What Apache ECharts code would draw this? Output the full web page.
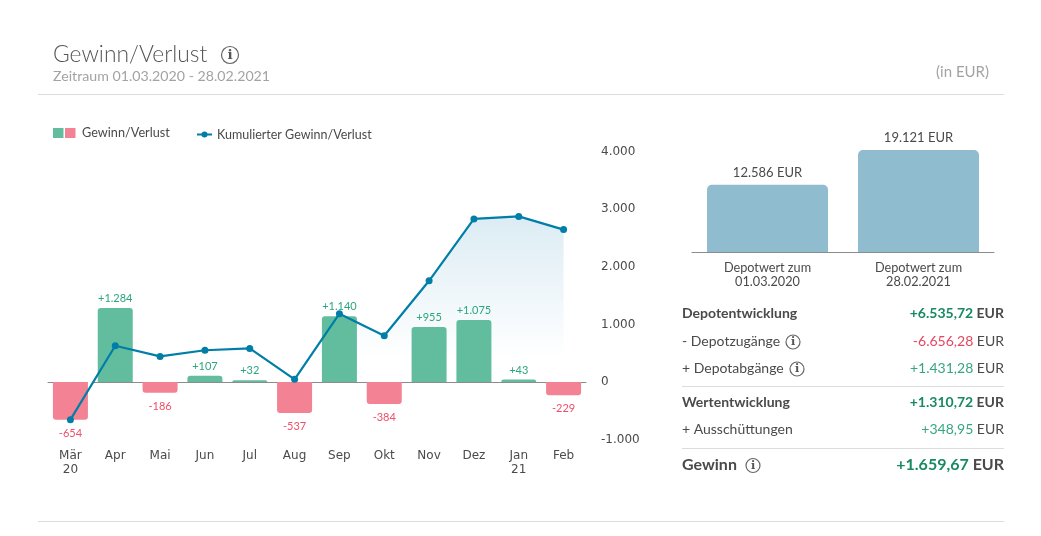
<!DOCTYPE html>
<html lang="de">
  <head>
    <meta charset="UTF-8" />
    <title>Gewinn/Verlust</title>
    <script src="https://cdn.jsdelivr.net/npm/echarts@6/dist/echarts.min.js"></script>
  </head>
  <body style="margin: 0; background: #fff">
    <div id="container" style="width: 1041px; height: 536px"></div>
    <script>
      const months = ["Mär\n20", "Apr", "Mai", "Jun", "Jul", "Aug", "Sep", "Okt", "Nov", "Dez", "Jan\n21", "Feb"];
      const gainLoss = [-654, 1284, -186, 107, 32, -537, 1140, -384, 955, 1075, 43, -229];
      const cumulated = [-654, 630, 444, 551, 583, 46, 1186, 802, 1757, 2832, 2875, 2646];
      const depotDates = ["Depotwert zum\n01.03.2020", "Depotwert zum\n28.02.2021"];
      const depotValues = [12586, 19121];
      const tableRows = [
        ["Depotentwicklung", "+6.535,72", true],
        ["- Depotzugänge", "-6.656,28", false],
        ["+ Depotabgänge", "+1.431,28", false],
        ["Wertentwicklung", "+1.310,72", true],
        ["+ Ausschüttungen", "+348,95", false]
      ];
      const totalRow = ["Gewinn", "+1.659,67"];

      const font = "Lato";
      const tickFont = "DejaVu Sans";
      const dark = "#4a4a4a";
      const green = "#62bd9f";
      const red = "#f38294";
      const lineColor = "#007ea7";

      function fmt(v) {
        return Math.abs(v).toString().replace(/\B(?=(\d{3})+$)/g, ".");
      }

      function text(x, y, str, size, fill, extra) {
        return {
          type: "text",
          x: x,
          y: y,
          style: Object.assign({ text: str, fontFamily: font, fontSize: size, fill: fill, verticalAlign: "middle" }, extra)
        };
      }
      function rule(x1, x2, y, color, width) {
        return { type: "line", shape: { x1: x1, y1: y, x2: x2, y2: y }, style: { stroke: color || "#dcdcdc", lineWidth: width || 1 } };
      }
      // kleines (i) Symbol
      function info(x, y, r) {
        return [
          { type: "circle", shape: { cx: x, cy: y, r: r }, style: { fill: "none", stroke: "#666", lineWidth: 1.2 } },
          text(x, y + 0.5, "i", r * 1.6, "#555", { align: "center", fontWeight: "bold", fontFamily: "DejaVu Serif" })
        ];
      }

      const rowY = [313, 341, 368, 402, 429];
      const iconX = { 1: 793, 2: 797 };
      let elements = [
        text(53, 54.5, "Gewinn/Verlust", 22.8, "#555", { fontWeight: 300 }),
        text(53, 76, "Zeitraum 01.03.2020 - 28.02.2021", 14.2, "#a3a3a3"),
        text(989, 72, "(in EUR)", 15, "#a3a3a3", { align: "right" }),
        rule(38, 1004, 94.5),
        rule(38, 1004, 521.5),
        rule(682, 1004, 386.5),
        rule(682, 1004, 448.5),
        { type: "rect", shape: { x: 53, y: 128, width: 10.5, height: 10 }, style: { fill: green } },
        { type: "rect", shape: { x: 65, y: 128, width: 10.5, height: 10 }, style: { fill: red } },
        text(82, 133, "Gewinn/Verlust", 12.7, dark),
        rule(197, 212, 134.5, lineColor, 2),
        { type: "circle", shape: { cx: 204.5, cy: 134.5, r: 3 }, style: { fill: lineColor } },
        text(217, 135, "Kumulierter Gewinn/Verlust", 12.5, dark)
      ].concat(info(230, 55, 8.5));

      tableRows.forEach((r, i) => {
        const isNeg = r[1][0] === "-";
        const vColor = isNeg ? "#e8455f" : r[2] ? "#178a62" : "#35a77f";
        const weight = r[2] ? "bold" : "normal";
        elements.push(text(682, rowY[i], r[0], 14, dark, { fontWeight: weight }));
        elements.push(text(1004, rowY[i], "{v|" + r[1] + "}{e| EUR}", 14, dark, {
          align: "right",
          rich: {
            v: { fill: vColor, fontFamily: font, fontSize: 14, fontWeight: weight },
            e: { fill: dark, fontFamily: font, fontSize: 14, fontWeight: weight }
          }
        }));
        if (iconX[i]) elements = elements.concat(info(iconX[i], rowY[i] + 1, 7));
      });
      elements.push(text(682, 465, totalRow[0], 16, dark, { fontWeight: "bold" }));
      elements.push(text(1004, 465, "{v|" + totalRow[1] + "}{e| EUR}", 16, dark, {
        align: "right",
        rich: {
          v: { fill: "#178a62", fontFamily: font, fontSize: 16, fontWeight: "bold" },
          e: { fill: dark, fontFamily: font, fontSize: 16, fontWeight: "bold" }
        }
      }));
      elements = elements.concat(info(753, 465.5, 7));

      const barData = gainLoss.map(v => ({
        value: v,
        itemStyle: { color: v < 0 ? red : green, borderRadius: v < 0 ? [0, 0, 3, 3] : [3, 3, 0, 0] },
        label: {
          position: v < 0 ? "bottom" : "top",
          distance: v < 0 ? 8 : 4,
          color: v < 0 ? "#ee4f69" : "#2aa77c",
          formatter: (v < 0 ? "-" : "+") + fmt(v)
        }
      }));

      const myChart = echarts.init(document.getElementById("container"));
      myChart.setOption({
        animation: false,
        graphic: { elements: elements },
        grid: [
          { left: 48, width: 538, top: 151.6, height: 288, containLabel: false },
          { left: 692, width: 302, top: 145.3, height: 106.7, containLabel: false }
        ],
        xAxis: [
          {
            type: "category",
            gridIndex: 0,
            data: months,
            axisLine: { onZero: true, lineStyle: { color: "#8c8c8c", width: 1 } },
            axisTick: { show: false },
            axisLabel: { margin: 9, color: dark, fontFamily: tickFont, fontSize: 12, lineHeight: 14, interval: 0 }
          },
          {
            type: "category",
            gridIndex: 1,
            data: depotDates,
            axisLine: { lineStyle: { color: "#8c8c8c", width: 1 } },
            axisTick: { show: false },
            axisLabel: { margin: 9, color: dark, fontFamily: font, fontSize: 12.7, lineHeight: 14, interval: 0 }
          }
        ],
        yAxis: [
          {
            type: "value",
            gridIndex: 0,
            position: "right",
            min: -1000,
            max: 4000,
            interval: 1000,
            splitLine: { show: false },
            axisLine: { show: false },
            axisTick: { show: false },
            axisLabel: {
              margin: 15,
              color: dark,
              fontFamily: tickFont,
              fontSize: 12,
              padding: [4, 0, 0, 0],
              formatter: v => (v < 0 ? "-" : "") + fmt(v)
            }
          },
          { type: "value", gridIndex: 1, min: 0, max: 20000, show: false }
        ],
        series: [
          {
            // Fläche unter der Linie, liegt hinter den Balken
            type: "line",
            xAxisIndex: 0,
            yAxisIndex: 0,
            z: 1,
            data: cumulated,
            showSymbol: false,
            lineStyle: { width: 0 },
            areaStyle: {
              opacity: 1,
              color: new echarts.graphic.LinearGradient(0, 0, 0, 1, [
                { offset: 0, color: "#dcecf4" },
                { offset: 0.7, color: "#ffffff" },
                { offset: 1, color: "#ffffff" }
              ])
            }
          },
          {
            type: "bar",
            xAxisIndex: 0,
            yAxisIndex: 0,
            z: 2,
            barWidth: 35,
            data: barData,
            label: { show: true, fontFamily: font, fontSize: 11 }
          },
          {
            type: "line",
            xAxisIndex: 0,
            yAxisIndex: 0,
            z: 3,
            data: cumulated,
            symbol: "circle",
            symbolSize: 7,
            itemStyle: { color: lineColor },
            lineStyle: { color: lineColor, width: 2.2 }
          },
          {
            type: "bar",
            xAxisIndex: 1,
            yAxisIndex: 1,
            barWidth: 121,
            data: depotValues,
            itemStyle: { color: "#90bcd0", borderRadius: [5, 5, 0, 0] },
            label: {
              show: true,
              position: "top",
              distance: 6,
              color: dark,
              fontFamily: font,
              fontSize: 13,
              formatter: p => fmt(p.value) + " EUR"
            }
          }
        ]
      });
    </script>
  </body>
</html>
